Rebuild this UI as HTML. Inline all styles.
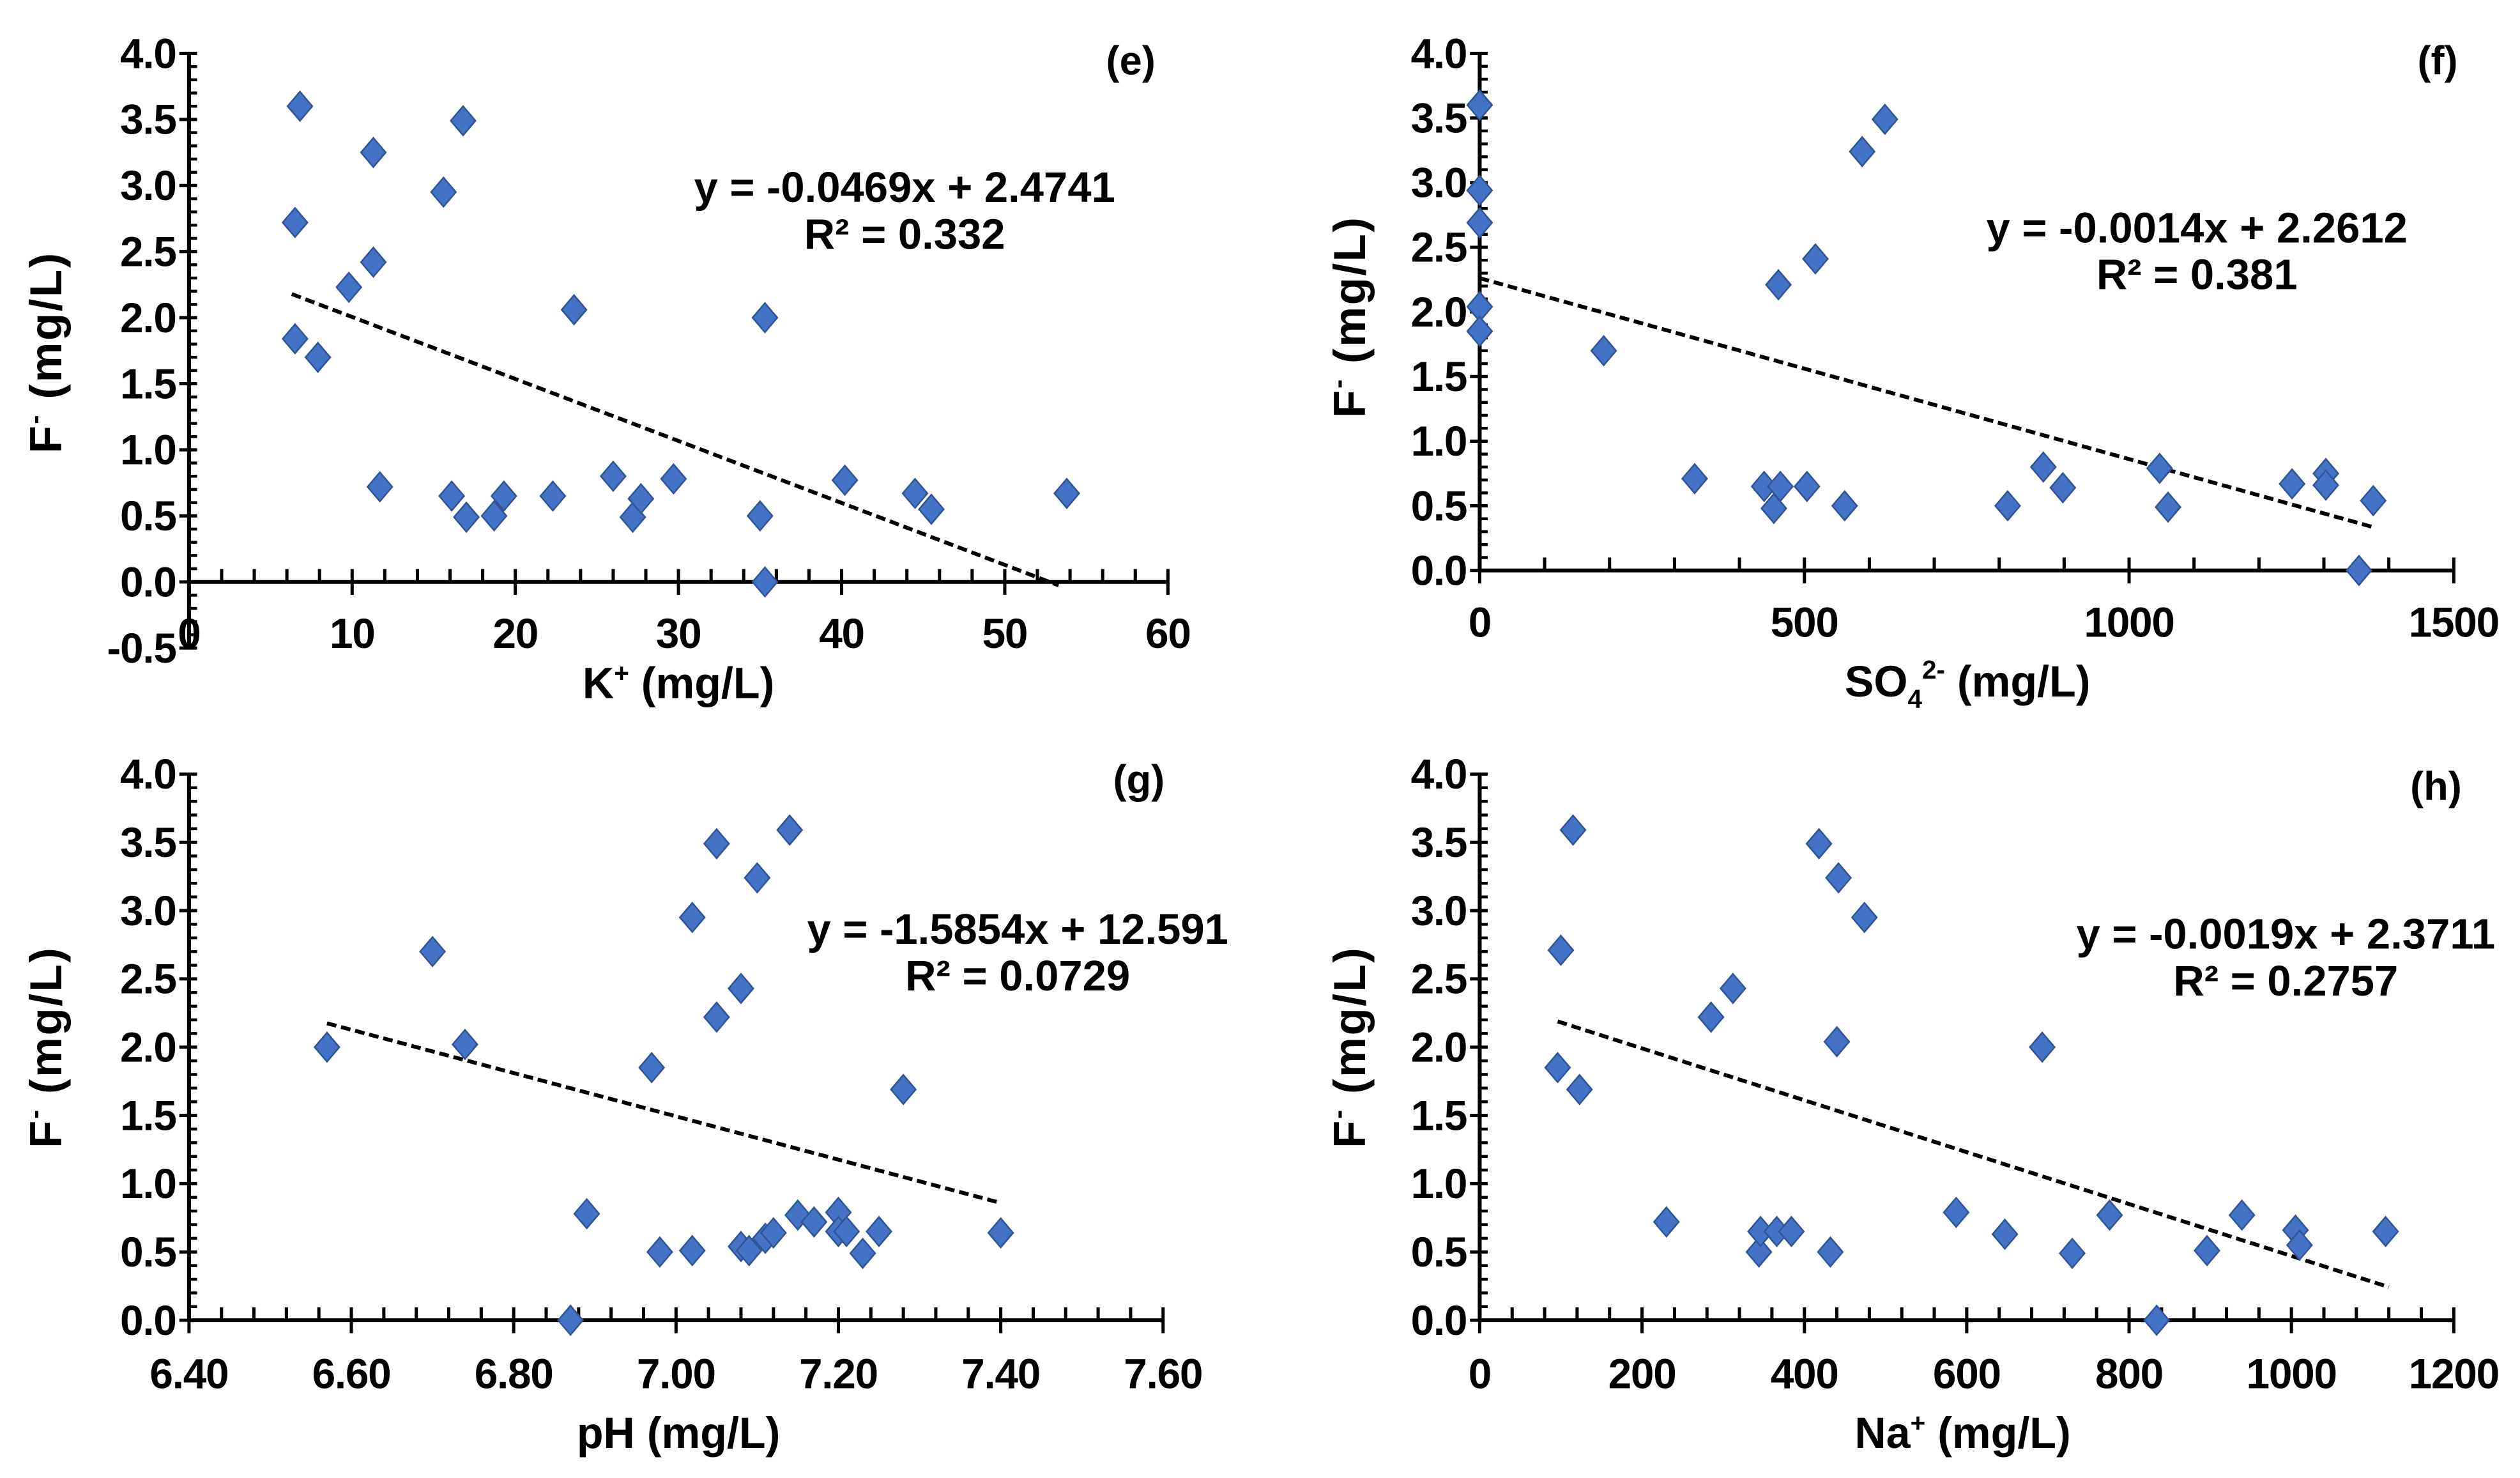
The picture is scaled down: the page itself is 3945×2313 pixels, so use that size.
<!DOCTYPE html>
<html><head><meta charset="utf-8"><style>
html,body{margin:0;padding:0;background:#fff}
svg{display:block}
text{font-family:"Liberation Sans",Arial,sans-serif;font-weight:bold;fill:#000}
</style></head><body>
<svg id="chart" width="3945" height="2313" viewBox="0 0 1560 914.6" xmlns="http://www.w3.org/2000/svg"></svg>
<script>
// Panel (e) K+
const eX=[6.5,6.8,6.5,7.9,9.8,11.3,11.3,11.7,15.6,16.8,16.1,17,18.7,19.3,22.3,23.6,26,27.2,27.7,29.7,35,35.3,35.3,40.2,44.5,45.5,53.8];
const eY=[1.84,3.6,2.72,1.7,2.23,3.25,2.42,0.72,2.95,3.49,0.65,0.49,0.5,0.65,0.65,2.06,0.8,0.49,0.63,0.78,0.5,2.0,0,0.77,0.67,0.55,0.67];
const eXTicks=["0","10","20","30","40","50","60"];
const eYTicks=["-0.5","0.0","0.5","1.0","1.5","2.0","2.5","3.0","3.5","4.0"];
// Panel (f) SO4
const fX=[0,0,0,0,0,191,331,438,453,463,460,517,504,562,589,624,813,868,898,1047,1060,1251,1303,1303,1376,1354];
const fY=[3.6,2.94,2.69,2.04,1.85,1.7,0.71,0.65,0.48,0.65,2.21,2.41,0.65,0.5,3.24,3.49,0.5,0.8,0.64,0.79,0.49,0.67,0.75,0.66,0.54,0];
const fXTicks=["0","500","1000","1500"];
const fYTicks=["0.0","0.5","1.0","1.5","2.0","2.5","3.0","3.5","4.0"];
// Panel (g) pH
const gX=[6.57,6.70,6.74,6.89,6.87,6.97,6.98,7.02,7.02,7.05,7.05,7.08,7.08,7.09,7.10,7.11,7.12,7.14,7.15,7.17,7.20,7.20,7.21,7.23,7.25,7.28,7.40];
const gY=[2.0,2.70,2.02,0.78,0,1.85,0.5,0.51,2.95,3.49,2.22,2.43,0.54,0.51,3.24,0.6,0.64,3.59,0.77,0.72,0.79,0.65,0.65,0.49,0.65,1.69,0.64];
const gXTicks=["6.40","6.60","6.80","7.00","7.20","7.40","7.60"];
const gYTicks=["0.0","0.5","1.0","1.5","2.0","2.5","3.0","3.5","4.0"];
// Panel (h) Na+
const hX=[96,100,115,123,230,285,312,344,346,366,384,418,432,440,442,474,587,647,693,730,776,896,939,1005,1010,1116,834];
const hY=[1.85,2.71,3.59,1.69,0.72,2.22,2.43,0.5,0.65,0.65,0.65,3.49,0.5,2.04,3.24,2.95,0.79,0.63,2.0,0.49,0.77,0.51,0.77,0.66,0.55,0.65,0];
const hXTicks=["0","200","400","600","800","1000","1200"];
const hYTicks=["0.0","0.5","1.0","1.5","2.0","2.5","3.0","3.5","4.0"];

const NS="http://www.w3.org/2000/svg";
const svg=document.getElementById('chart');
function mk(tag,attrs,parent){const e=document.createElementNS(NS,tag);for(const k in attrs)e.setAttribute(k,attrs[k]);(parent||svg).appendChild(e);return e;}

function panel(o){
  const g=mk('g',{});
  
  
  const sx=v=>o.px0+(v-o.x0)/(o.x1-o.x0)*(o.px1-o.px0);
  const sy=v=>o.py0-(v-o.y0)/(o.y1-o.y0)*(o.py0-o.py1);
  const ax=sx(o.x0), ay=sy(0);
  const ya=mk('line',{x1:ax,y1:sy(o.y0),x2:ax,y2:sy(o.y1),stroke:'#000','stroke-width':2.4},g);
  
  
  for(let v=o.y0;v<=o.y1+1e-9;v+=0.1){
    const y=sy(v);const maj=Math.abs(v*2-Math.round(v*2))<1e-6;
    mk('line',{x1:maj?ax-6:ax,y1:y,x2:ax+5,y2:y,stroke:'#000','stroke-width':maj?2:1.8},g);
  }
  o.yT.forEach((t,i)=>{
    const v=o.y0+i*0.5;
    const tx=mk('text',{x:ax-8,y:sy(v)+9,'text-anchor':'end','font-size':26,'letter-spacing':-0.5},g);
    tx.textContent=t;
    
    
  });
  const xa=mk('line',{x1:ax,y1:ay,x2:sx(o.x1),y2:ay,stroke:'#000','stroke-width':2.4},g);
  
  
  const nMaj=o.xT.length-1, step=(o.x1-o.x0)/nMaj;
  for(let i=0;i<=nMaj*o.minor;i++){
    const v=o.x0+i*step/o.minor;const x=sx(v);const maj=i%o.minor===0;
    mk('line',{x1:x,y1:ay-8,x2:x,y2:maj?ay+8:ay,stroke:'#000','stroke-width':2},g);
  }
  o.xT.forEach((t,i)=>{
    const tx=mk('text',{x:sx(o.x0+i*step),y:o.xly,'text-anchor':'middle','font-size':26,'letter-spacing':-0.5},g);
    tx.textContent=t;
    
    
  });
  const tl=mk('line',{x1:sx(o.t0),y1:sy(o.m*o.t0+o.b),x2:sx(o.t1),y2:sy(o.m*o.t1+o.b),stroke:'#000','stroke-width':2.4,'stroke-dasharray':'6,3'},g);
  
  
  o.xs.forEach((xv,i)=>{
    const cx=sx(xv),cy=sy(o.ys[i]),r=9;
    const p=mk('path',{d:`M${cx},${cy-r}L${cx+r*0.85},${cy}L${cx},${cy+r}L${cx-r*0.85},${cy}Z`,fill:'#4472C4',stroke:'#2F5597','stroke-width':1},g);
    
    
  });
  const t1=mk('text',{x:o.eqx,y:o.eqy,'text-anchor':'middle','font-size':26.5},g);t1.textContent=o.eq;
  
  
  const t2=mk('text',{x:o.eqx,y:o.eqy+29,'text-anchor':'middle','font-size':26.5},g);t2.innerHTML=o.r2;
  
  
  const t3=mk('text',{x:o.lx,y:o.ly,'text-anchor':'middle','font-size':25},g);t3.textContent='('+o.id+')';
  
  
  const t4=mk('text',{x:o.xtx,y:o.xty,'text-anchor':'middle','font-size':27},g);t4.innerHTML=o.xt;
  
  
  const t5=mk('text',{x:0,y:0,'text-anchor':'middle','font-size':28,'letter-spacing':1,transform:`translate(${o.ytx},${o.ytc}) rotate(-90)`},g);
  t5.innerHTML='F<tspan font-size="17" dy="-11">-</tspan><tspan dy="11">  (mg/L)</tspan>';
  
  
}

panel({id:'e',xs:eX,ys:eY,xT:eXTicks,yT:eYTicks,x0:0,x1:60,y0:-0.5,y1:4.0,px0:117,px1:723,py0:401,py1:33,minor:5,xly:401,
  m:-0.0469,b:2.4741,t0:6.3,t1:53.3,eq:'y = -0.0469x + 2.4741',r2:'R² = 0.332',eqx:560,eqy:125,lx:700,ly:46,
  xt:'K<tspan font-size="16" dy="-10">+</tspan><tspan dy="10"> (mg/L)</tspan>',xtx:420,xty:432,ytx:38,ytc:218});
panel({id:'f',xs:fX,ys:fY,xT:fXTicks,yT:fYTicks,x0:0,x1:1500,y0:0,y1:4.0,px0:916,px1:1519,py0:353,py1:33,minor:5,xly:394,
  m:-0.0014,b:2.2612,t0:0,t1:1376,eq:'y = -0.0014x + 2.2612',r2:'R² = 0.381',eqx:1360,eqy:150,lx:1509,ly:46,
  xt:'SO<tspan font-size="16" dy="7">4</tspan><tspan font-size="16" dy="-18">2-</tspan><tspan dy="11"> (mg/L)</tspan>',xtx:1218,xty:431,ytx:845,ytc:196});
panel({id:'g',xs:gX,ys:gY,xT:gXTicks,yT:gYTicks,x0:6.4,x1:7.6,y0:0,y1:4.0,px0:117,px1:720,py0:817,py1:479,minor:5,xly:859,
  m:-1.5854,b:12.591,t0:6.57,t1:7.40,eq:'y = -1.5854x + 12.591',r2:'R² = 0.0729',eqx:630,eqy:584,lx:705,ly:491,
  xt:'pH (mg/L)',xtx:420,xty:896,ytx:38,ytc:648});
panel({id:'h',xs:hX,ys:hY,xT:hXTicks,yT:hYTicks,x0:0,x1:1200,y0:0,y1:4.0,px0:916,px1:1519,py0:817,py1:479,minor:5,xly:859,
  m:-0.0019,b:2.3711,t0:96,t1:1120,eq:'y = -0.0019x + 2.3711',r2:'R² = 0.2757',eqx:1415,eqy:587,lx:1508,ly:495,
  xt:'Na<tspan font-size="16" dy="-10">+</tspan><tspan dy="10"> (mg/L)</tspan>',xtx:1215,xty:896,ytx:845,ytc:648});
</script>
</body></html>
